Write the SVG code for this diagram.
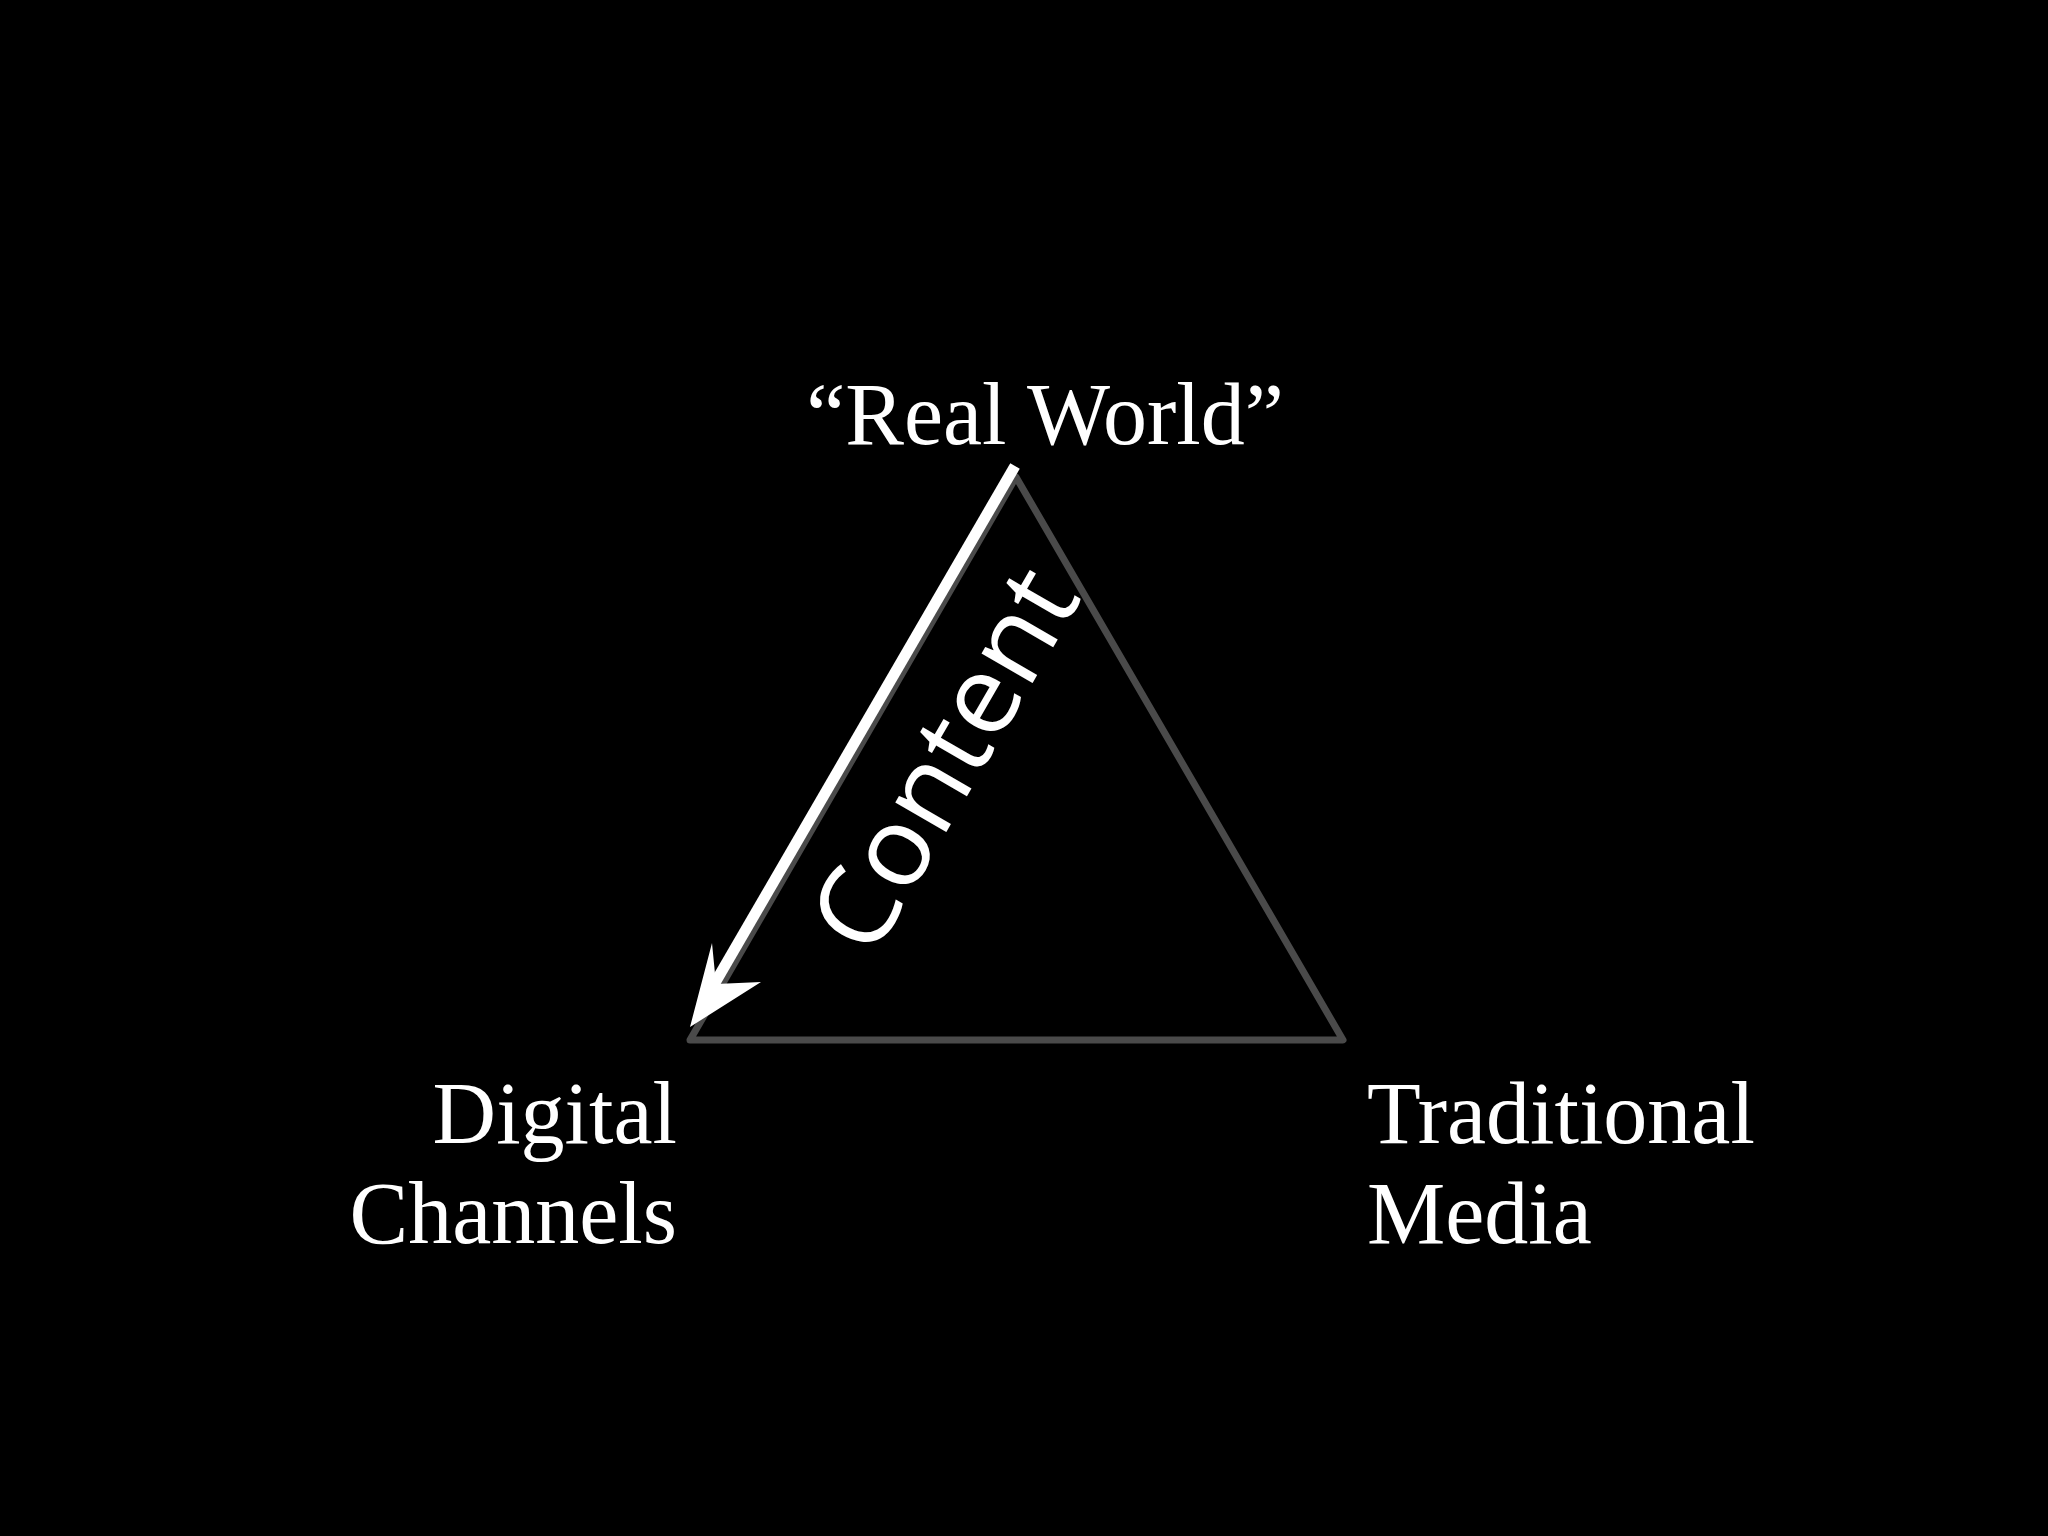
<svg xmlns="http://www.w3.org/2000/svg" width="2048" height="1536" viewBox="0 0 2048 1536">
<style>
.lbl{font-family:"Liberation Serif",Georgia,serif;font-size:88px;fill:#fff}
</style>
<rect width="2048" height="1536" fill="#000"/>
<g id="connectors">
<polygon points="1016,477 1343,1040 690,1040" fill="none" stroke="#4a4a4a" stroke-width="7" stroke-linejoin="round"/>
<line x1="1015" y1="466" x2="712" y2="988" stroke="#fff" stroke-width="11"/>
<polygon points="690,1027 712,943 716,984 761,982" fill="#fff"/>
</g>
<g id="realworld"><text class="lbl" x="1045" y="444" text-anchor="middle">“Real World”</text></g>
<g id="digital"><text class="lbl" text-anchor="end"><tspan x="677" y="1143">Digital</tspan><tspan x="677" y="1243">Channels</tspan></text></g>
<g id="traditional"><text class="lbl"><tspan x="1367" y="1143">Traditional</tspan><tspan x="1367" y="1243">Media</tspan></text></g>
<g id="content"><text transform="translate(940,757) rotate(-60)" text-anchor="middle" dominant-baseline="central" font-family="'Open Sans',sans-serif" font-size="110" fill="#fff" textLength="420" lengthAdjust="spacingAndGlyphs">Content</text></g>
</svg>
